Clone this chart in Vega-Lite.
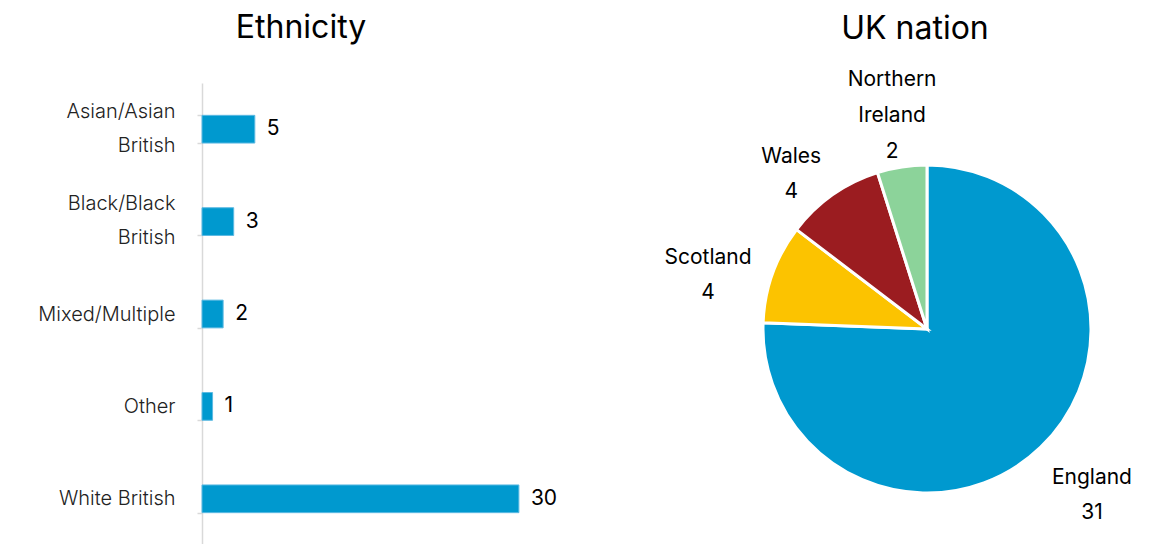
{
  "$schema": "https://vega.github.io/schema/vega-lite/v6.json",
  "padding": {"left": 37, "top": 12, "right": 0, "bottom": 0},
  "background": "white",
  "spacing": 83,
  "config": {"view": {"stroke": null}, "font": "Inter"},
  "hconcat": [
    {
      "title": {"text": "Ethnicity", "fontSize": 32, "font": "Inter", "fontWeight": 400, "color": "#000", "offset": 28, "frame": "group", "anchor": "middle", "dx": -70},
      "width": 338,
      "height": 462,
      "data": {"values": [
        {"ethnicity": "Asian/Asian British", "count": 5},
        {"ethnicity": "Black/Black British", "count": 3},
        {"ethnicity": "Mixed/Multiple", "count": 2},
        {"ethnicity": "Other", "count": 1},
        {"ethnicity": "White British", "count": 30}
      ]},
      "encoding": {
        "y": {"field": "ethnicity", "type": "nominal",
          "sort": ["Asian/Asian British", "Black/Black British", "Mixed/Multiple", "Other", "White British"],
          "scale": {"paddingInner": 0.7, "paddingOuter": 0.35},
          "axis": {"title": null, "domainColor": "#d9d9d9", "domainWidth": 1.5, "tickColor": "#d9d9d9", "tickSize": 5, "tickWidth": 1.5, "tickBand": "extent",
            "labelFontSize": 20, "labelFont": "Inter", "labelFontWeight": 300, "labelColor": "#222", "labelPadding": 22, "labelLineHeight": 34,
            "labelOffset": {"condition": {"test": "datum.value == 'Asian/Asian British' || datum.value == 'Black/Black British'", "value": -18}, "value": 0},
            "labelExpr": "datum.value == 'Asian/Asian British' ? ['Asian/Asian', 'British'] : datum.value == 'Black/Black British' ? ['Black/Black', 'British'] : datum.label"}},
        "x": {"field": "count", "type": "quantitative", "scale": {"domain": [0, 32]}, "axis": null}
      },
      "layer": [
        {"mark": {"type": "bar", "color": "#0099cf", "stroke": "#5cb9e2", "strokeWidth": 1}},
        {"mark": {"type": "text", "align": "left", "baseline": "middle", "dx": 12, "fontSize": 21, "font": "Inter", "color": "#000"},
         "encoding": {"text": {"field": "count", "type": "quantitative"}}}
      ]
    },
    {
      "title": {"text": "UK nation", "fontSize": 32, "font": "Inter", "fontWeight": 400, "color": "#000", "offset": 23, "frame": "group", "anchor": "middle", "dx": -12},
      "width": 572,
      "height": 492,
      "data": {"values": [
        {"nation": "England", "count": 31, "label": "England\n31", "o": 1},
        {"nation": "Scotland", "count": 4, "label": "Scotland\n4", "o": 2},
        {"nation": "Wales", "count": 4, "label": "Wales\n4", "o": 3},
        {"nation": "Northern Ireland", "count": 2, "label": "Northern\nIreland\n2", "o": 4}
      ]},
      "encoding": {
        "theta": {"field": "count", "type": "quantitative", "stack": true},
        "order": {"field": "o", "type": "quantitative"},
        "color": {"field": "nation", "type": "nominal",
          "scale": {"domain": ["England", "Scotland", "Wales", "Northern Ireland"], "range": ["#0099cf", "#fcc300", "#9b1c20", "#8cd39a"]},
          "legend": null}
      },
      "layer": [
        {"mark": {"type": "arc", "radius": 164, "stroke": "white", "strokeWidth": 3}},
        {"mark": {"type": "text", "radius": 222, "fontSize": 21, "font": "Inter", "lineBreak": "\n", "lineHeight": 35, "baseline": "middle", "align": "center", "dx": 11, "dy": -11},
         "encoding": {"text": {"condition": {"test": "datum.o == 1", "field": "label"}, "value": ""}, "color": {"value": "#000"}}},
        {"mark": {"type": "text", "radius": 222, "fontSize": 21, "font": "Inter", "lineBreak": "\n", "lineHeight": 35, "baseline": "middle", "align": "center", "dx": -10, "dy": 4},
         "encoding": {"text": {"condition": {"test": "datum.o == 2", "field": "label"}, "value": ""}, "color": {"value": "#000"}}},
        {"mark": {"type": "text", "radius": 222, "fontSize": 21, "font": "Inter", "lineBreak": "\n", "lineHeight": 35, "baseline": "middle", "align": "center", "dx": -8, "dy": 10},
         "encoding": {"text": {"condition": {"test": "datum.o == 3", "field": "label"}, "value": ""}, "color": {"value": "#000"}}},
        {"mark": {"type": "text", "radius": 222, "fontSize": 21, "font": "Inter", "lineBreak": "\n", "lineHeight": 36, "baseline": "middle", "align": "center", "dx": -1, "dy": -30},
         "encoding": {"text": {"condition": {"test": "datum.o == 4", "field": "label"}, "value": ""}, "color": {"value": "#000"}}}
      ]
    }
  ]
}
